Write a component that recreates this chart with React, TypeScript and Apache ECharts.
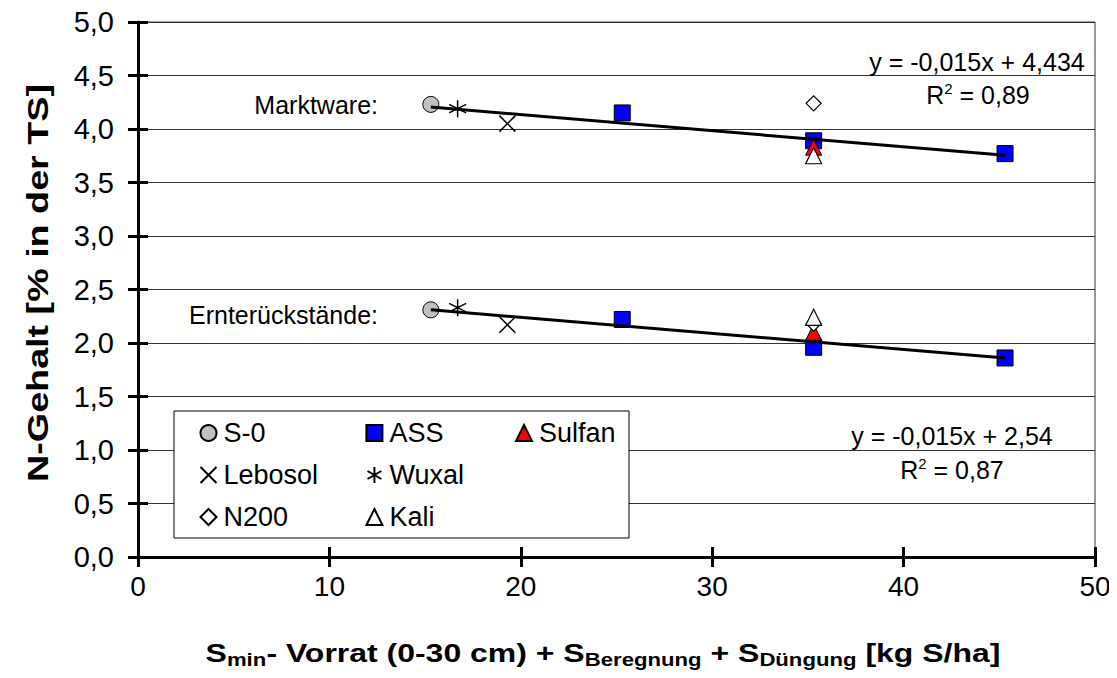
import React, { useEffect, useRef } from "react";
import * as echarts from "echarts";

// ---- data ----
const seriesNames = ["S-0", "ASS", "Sulfan", "Lebosol", "Wuxal", "N200", "Kali"];
const s0X = [15.3];
const s0Markt = [4.23];
const s0Ernte = [2.31];
const assX = [25.3, 35.3, 45.3];
const assMarkt = [4.15, 3.89, 3.77];
const assErnte = [2.22, 1.96, 1.86];
const sulfanX = [35.3];
const sulfanMarkt = [3.83];
const sulfanErnte = [2.1];
const lebosolX = [19.3];
const lebosolMarkt = [4.05];
const lebosolErnte = [2.17];
const wuxalX = [16.7];
const wuxalMarkt = [4.19];
const wuxalErnte = [2.33];
const n200X = [35.3];
const n200Markt = [4.24];
const n200Ernte = [2.18];
const kaliX = [35.3];
const kaliMarkt = [3.75];
const kaliErnte = [2.24];

const regMarkt = { slope: -0.015, intercept: 4.434, r2: "0,89", eq: "y = -0,015x + 4,434" };
const regErnte = { slope: -0.015, intercept: 2.54, r2: "0,87", eq: "y = -0,015x + 2,54" };
const regXRange = [15.3, 45.3];

const xTicks = { min: 0, max: 50, interval: 10 };
const yTicks = { min: 0, max: 5, interval: 0.5 };

const FONT = "'Liberation Sans', Arial, Helvetica, sans-serif";

const pts = (xs: number[], a: number[], b: number[]) => [
  ...xs.map((x, i) => [x, a[i]]),
  ...xs.map((x, i) => [x, b[i]]),
];

const SYM_X = "path://M0,0L10,10M10,0L0,10";
const SYM_AST = "path://M5,0L5,10M0.67,2.5L9.33,7.5M0.67,7.5L9.33,2.5";

export default function App() {
  const ref = useRef<HTMLDivElement>(null);
  useEffect(() => {
    if (!ref.current) return;
    const chart = echarts.init(ref.current, undefined, { renderer: "svg" });
    const fmt = (v: number) => v.toFixed(1).replace(".", ",");
    const regLine = (r: { slope: number; intercept: number }) =>
      regXRange.map((x) => [x, r.slope * x + r.intercept]);

    const scatterBase = (name: string, data: number[][], symbol: string, fill: string, stroke: string, bw: number, size: number) => ({
      name,
      type: "scatter",
      data,
      symbol,
      symbolSize: size,
      xAxisIndex: 0,
      yAxisIndex: 0,
      z: 3,
      itemStyle: { color: fill, borderColor: stroke, borderWidth: bw, opacity: 1 },
    });

    const legendCommon = {
      orient: "vertical",
      itemWidth: 16,
      itemHeight: 16,
      itemGap: 14,
      textStyle: { fontFamily: FONT, fontSize: 27, color: "#000", lineHeight: 28, padding: [0, 0, 0, 2] },
      selectedMode: false,
      z: 6,
    };

    const option: any = {
      animation: false,
      backgroundColor: "#fff",
      grid: {
        left: 138,
        right: 22,
        top: 22,
        bottom: 121,
        show: true,
        borderColor: "#333",
        borderWidth: 1,
        backgroundColor: "transparent",
      },
      xAxis: [
        {
          type: "value",
          min: xTicks.min,
          max: xTicks.max,
          interval: xTicks.interval,
          axisLine: { show: true, onZero: false, lineStyle: { color: "#000", width: 3 } },
          axisTick: { show: true, length: 10, lineStyle: { color: "#000", width: 3 } },
          axisLabel: { fontFamily: FONT, fontSize: 28, color: "#000", margin: 15 },
          splitLine: { show: false },
        },
        {
          type: "value",
          position: "bottom",
          min: xTicks.min,
          max: xTicks.max,
          interval: xTicks.interval,
          axisLine: { show: false, onZero: false },
          axisTick: { show: true, inside: true, length: 10, lineStyle: { color: "#000", width: 3 } },
          axisLabel: { show: false },
          splitLine: { show: false },
        },
      ],
      yAxis: [
        {
          type: "value",
          min: yTicks.min,
          max: yTicks.max,
          interval: yTicks.interval,
          axisLine: { show: true, onZero: false, lineStyle: { color: "#000", width: 3 } },
          axisTick: { show: true, length: 10, lineStyle: { color: "#000", width: 3 } },
          axisLabel: { fontFamily: FONT, fontSize: 29, color: "#000", margin: 24, formatter: fmt },
          splitLine: { show: true, lineStyle: { color: "#333", width: 1 } },
        },
        {
          type: "value",
          position: "left",
          min: yTicks.min,
          max: yTicks.max,
          interval: yTicks.interval,
          axisLine: { show: false, onZero: false },
          axisTick: { show: true, inside: true, length: 10, lineStyle: { color: "#000", width: 3 } },
          axisLabel: { show: false },
          splitLine: { show: false },
        },
      ],
      legend: [
        { ...legendCommon, left: 193, top: 414, data: ["S-0", "Lebosol", "N200"] },
        { ...legendCommon, left: 360, top: 414, data: ["ASS", "Wuxal", "Kali"] },
        { ...legendCommon, left: 510, top: 414, data: ["Sulfan"] },
      ],
      series: [
        scatterBase(seriesNames[0], pts(s0X, s0Markt, s0Ernte), "circle", "#c0c0c0", "#000", 1, 16),
        scatterBase(seriesNames[1], pts(assX, assMarkt, assErnte), "rect", "#0000ff", "#000", 1, 16),
        scatterBase(seriesNames[2], pts(sulfanX, sulfanMarkt, sulfanErnte), "triangle", "#ff0000", "#000", 1, 16),
        scatterBase(seriesNames[3], pts(lebosolX, lebosolMarkt, lebosolErnte), SYM_X, "none", "#000", 1.5, 16),
        scatterBase(seriesNames[4], pts(wuxalX, wuxalMarkt, wuxalErnte), SYM_AST, "none", "#000", 1.5, 17),
        scatterBase(seriesNames[5], pts(n200X, n200Markt, n200Ernte), "diamond", "#fff", "#000", 1.2, 15),
        scatterBase(seriesNames[6], pts(kaliX, kaliMarkt, kaliErnte), "triangle", "#fff", "#000", 1.2, 16),
        {
          name: "regMarkt",
          type: "line",
          data: regLine(regMarkt),
          symbol: "none",
          z: 5,
          lineStyle: { color: "#000", width: 3 },
          xAxisIndex: 0,
          yAxisIndex: 0,
        },
        {
          name: "regErnte",
          type: "line",
          data: regLine(regErnte),
          symbol: "none",
          z: 5,
          lineStyle: { color: "#000", width: 3 },
          xAxisIndex: 0,
          yAxisIndex: 0,
        },
      ],
      graphic: [
        {
          type: "rect",
          z: 4,
          shape: { x: 174, y: 411, width: 455, height: 127 },
          style: { fill: "#fff", stroke: "#000", lineWidth: 1 },
        },
        {
          type: "text",
          z: 6,
          x: 378,
          y: 105,
          style: { text: "Marktware:", fontFamily: FONT, fontSize: 25, fill: "#000", align: "right", verticalAlign: "middle" },
        },
        {
          type: "text",
          z: 6,
          x: 378,
          y: 315,
          style: { text: "Ernterückstände:", fontFamily: FONT, fontSize: 25, fill: "#000", align: "right", verticalAlign: "middle" },
        },
        {
          type: "text",
          z: 6,
          x: 977,
          y: 62,
          style: { text: regMarkt.eq, fontFamily: FONT, fontSize: 25, fill: "#000", align: "center", verticalAlign: "middle" },
        },
        {
          type: "text",
          z: 6,
          x: 978,
          y: 95,
          style: {
            text: "{n|R}{s|2}{n| = " + regMarkt.r2 + "}",
            align: "center",
            verticalAlign: "middle",
            rich: {
              n: { fontFamily: FONT, fontSize: 25, fill: "#000", lineHeight: 28 },
              s: { fontFamily: FONT, fontSize: 15, fill: "#000", lineHeight: 15, verticalAlign: "top" },
            },
          },
        },
        {
          type: "text",
          z: 6,
          x: 952,
          y: 436,
          style: { text: regErnte.eq, fontFamily: FONT, fontSize: 25, fill: "#000", align: "center", verticalAlign: "middle" },
        },
        {
          type: "text",
          z: 6,
          x: 952,
          y: 470,
          style: {
            text: "{n|R}{s|2}{n| = " + regErnte.r2 + "}",
            align: "center",
            verticalAlign: "middle",
            rich: {
              n: { fontFamily: FONT, fontSize: 25, fill: "#000", lineHeight: 28 },
              s: { fontFamily: FONT, fontSize: 15, fill: "#000", lineHeight: 15, verticalAlign: "top" },
            },
          },
        },
        {
          type: "text",
          z: 6,
          x: 38,
          y: 283,
          rotation: Math.PI / 2,
          scaleX: 1.3,
          style: {
            text: "N-Gehalt [% in der TS]",
            fontFamily: FONT,
            fontSize: 29,
            fontWeight: "bold",
            fill: "#000",
            align: "center",
            verticalAlign: "middle",
          },
        },
        {
          type: "text",
          z: 6,
          x: 603,
          y: 653,
          scaleX: 1.23,
          style: {
            text: "{b|S}{sub|min}{b|- Vorrat (0-30 cm) + S}{sub|Beregnung}{b| + S}{sub|Düngung}{b| [kg S/ha]}",
            align: "center",
            verticalAlign: "middle",
            rich: {
              b: { fontFamily: FONT, fontSize: 26, fontWeight: "bold", fill: "#000", lineHeight: 32 },
              sub: { fontFamily: FONT, fontSize: 18, fontWeight: "bold", fill: "#000", lineHeight: 18, verticalAlign: "bottom" },
            },
          },
        },
      ],
    };
    chart.setOption(option);
    return () => chart.dispose();
  }, []);
  return <div ref={ref} style={{ width: 1117, height: 678, margin: -8 }} />;
}
